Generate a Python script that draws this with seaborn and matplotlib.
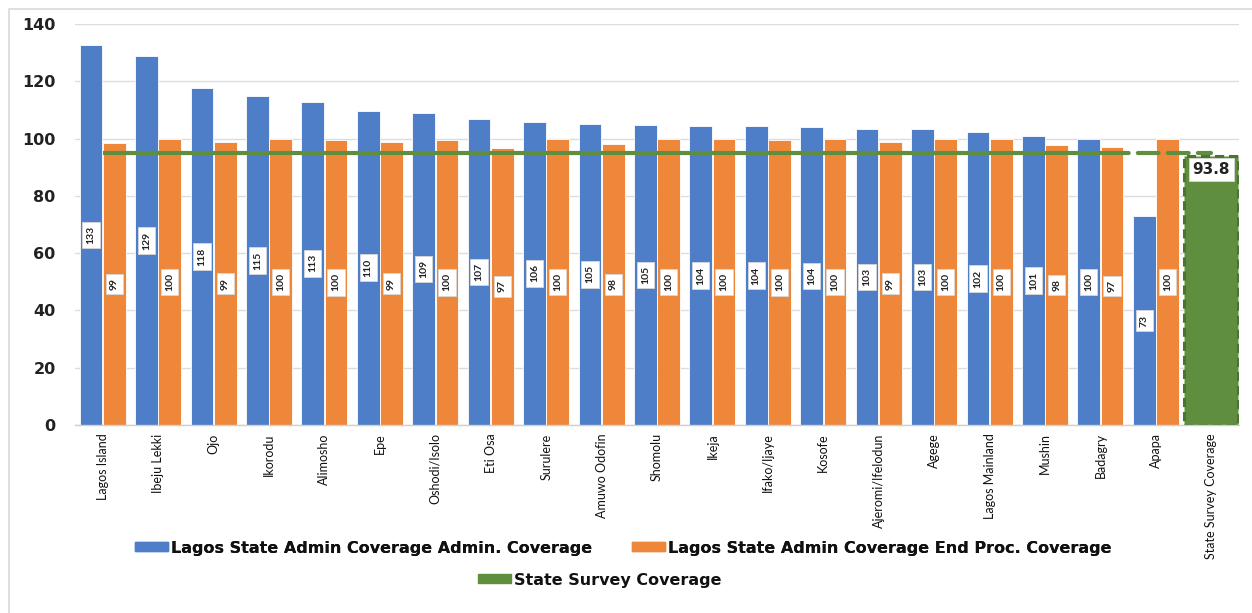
import matplotlib
matplotlib.use("Agg")
import matplotlib.pyplot as plt
import seaborn as sns
import pandas as pd
from matplotlib.patches import Patch
from matplotlib.lines import Line2D

# ---------------- data ----------------
lgas = ["Lagos Island", "Ibeju Lekki", "Ojo", "Ikorodu", "Alimosho", "Epe",
        "Oshodi/Isolo", "Eti Osa", "Surulere", "Amuwo Odofin", "Shomolu", "Ikeja",
        "Ifako/Ijaye", "Kosofe", "Ajeromi/Ifelodun", "Agege", "Lagos Mainland",
        "Mushin", "Badagry", "Apapa"]
admin_cov = [132.6, 128.7, 117.7, 114.7, 112.9, 109.8, 108.9, 106.9, 105.9, 105.2,
             104.8, 104.3, 104.3, 104.1, 103.2, 103.2, 102.2, 100.8, 99.9, 72.9]
endproc_cov = [98.6, 100.0, 98.8, 100.0, 99.6, 98.7, 99.6, 96.8, 100.0, 98.2,
               99.8, 100.0, 99.6, 99.7, 98.7, 100.0, 100.0, 97.9, 96.9, 100.0]
survey_cat = "State Survey Coverage"
survey_value = 93.8
reference_line = 95.0

series_admin = "Lagos State Admin Coverage Admin. Coverage"
series_end = "Lagos State Admin Coverage End Proc. Coverage"
series_survey = "State Survey Coverage"

BLUE = "#4E7EC8"
ORANGE = "#EF873A"
GREEN = "#608E3F"
GREEN_EDGE = "#4A7530"

order = lgas + [survey_cat]

df = pd.DataFrame({
    "cat": lgas * 2,
    "value": admin_cov + endproc_cov,
    "series": [series_admin] * len(lgas) + [series_end] * len(lgas),
})
df_s = pd.DataFrame({"cat": [survey_cat], "value": [survey_value]})

# ---------------- figure ----------------
sns.set_theme(style="white")
plt.rcParams["font.family"] = ["DejaVu Sans"]
NARROW = ["Lato", "DejaVu Sans"]

fig = plt.figure(figsize=(12.52, 6.13), dpi=100)
ax = fig.add_axes([75 / 1252, 1 - 425 / 613, (1239 - 75) / 1252, (425 - 24) / 613])

sns.barplot(data=df, x="cat", y="value", hue="series", order=order,
            hue_order=[series_admin, series_end], palette=[BLUE, ORANGE],
            width=0.84, gap=0.02, ax=ax, legend=False, errorbar=None,
            edgecolor="white", linewidth=0.6, saturation=1)
sns.barplot(data=df_s, x="cat", y="value", order=order, color=GREEN,
            width=0.97, ax=ax, errorbar=None, saturation=1,
            edgecolor=GREEN_EDGE, linewidth=2.2, linestyle=(0, (3, 1.6)))

# data labels
box = dict(boxstyle="square,pad=0.4", fc="white", ec="#D8D8D8", lw=0.6)
for cont in ax.containers[:2]:
    ax.bar_label(cont, fmt="{:.0f}", label_type="center", rotation=90,
                 fontsize=7.5, fontweight="bold", color="#222222", bbox=box,
                 family=NARROW)
ax.bar_label(ax.containers[2], fmt="{:.1f}", label_type="edge", padding=-15,
             fontsize=11, fontweight="bold", color="#222222",
             bbox=dict(boxstyle="square,pad=0.25", fc="white", ec="#D8D8D8", lw=0.6))

# reference line (solid, then dashed segment at the end)
n = len(order)
ax.plot([0, 18.2], [reference_line, reference_line], color=GREEN, lw=3,
        solid_capstyle="butt", zorder=4)
ax.plot([18.2, n - 1], [reference_line, reference_line], color=GREEN, lw=3,
        linestyle=(1, (5, 2.2)), dash_capstyle="round", zorder=4)

# axes styling
ax.set_xlim(-0.5, n - 0.5)
ax.set_ylim(0, 140)
ax.set_yticks(range(0, 141, 20))
ax.yaxis.grid(True, color="#DCDCDC", lw=1)
ax.set_axisbelow(True)
for s in ["top", "right", "left"]:
    ax.spines[s].set_visible(False)
ax.spines["bottom"].set_color("#D0D0D0")
ax.spines["bottom"].set_linewidth(1)
ax.set_xlabel("")
ax.set_ylabel("")
ax.tick_params(axis="y", length=0, pad=14, labelsize=11.5)
for t in ax.get_yticklabels():
    t.set_fontweight("bold")
    t.set_color("#222222")
ax.tick_params(axis="x", length=0, pad=6)
ax.set_xticks(range(n))
ax.set_xticklabels(order, rotation=90, fontsize=9, color="#111111", family=NARROW)

# legends
lp = dict(family=["DejaVu Sans"], weight="bold", size=11.5)
h1 = [Patch(color=BLUE, label=series_admin), Patch(color=ORANGE, label=series_end)]
leg1 = fig.legend(handles=h1, ncol=2, loc="center", bbox_to_anchor=(0.498, 1 - 548 / 613),
                  frameon=False, handlelength=2.06, handleheight=0.5, handletextpad=0.2,
                  columnspacing=2.5, prop=lp, labelcolor="#111111")
h2 = [Patch(color=GREEN, label=series_survey)]
leg2 = fig.legend(handles=h2, ncol=1, loc="center", bbox_to_anchor=(0.479, 1 - 580 / 613),
                  frameon=False, handlelength=2.06, handleheight=0.5, handletextpad=0.2,
                  prop=lp, labelcolor="#111111")
fig.add_artist(leg1)

# chart border (top and left edges visible)
fig.add_artist(Line2D([9 / 1252, 9 / 1252, 1], [0, 1 - 9 / 613, 1 - 9 / 613],
                      transform=fig.transFigure, color="#D9D9D9", lw=1.2))

fig.savefig("out.png", dpi=100, facecolor="white")
